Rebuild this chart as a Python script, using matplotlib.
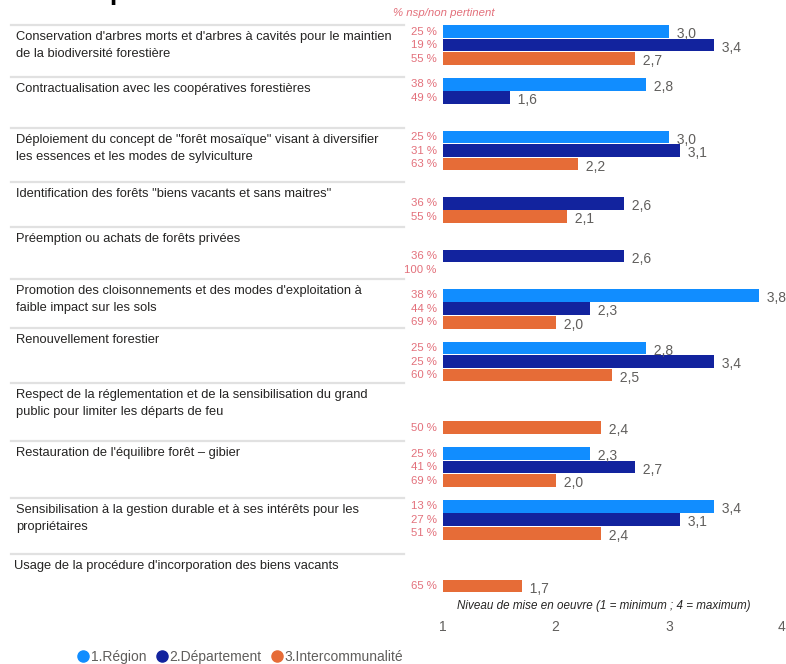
import numpy as np
import matplotlib
matplotlib.use("Agg")
import matplotlib.pyplot as plt
from matplotlib.lines import Line2D

plt.rcParams['font.family'] = ['Liberation Sans', 'DejaVu Sans']

# --- data ---
labels = [
    "Conservation d'arbres morts et d'arbres à cavités pour le maintien\nde la biodiversité forestière",
    "Contractualisation avec les coopératives forestières",
    "Déploiement du concept de \"forêt mosaïque\" visant à diversifier\nles essences et les modes de sylviculture",
    "Identification des forêts \"biens vacants et sans maitres\"",
    "Préemption ou achats de forêts privées",
    "Promotion des cloisonnements et des modes d'exploitation à\nfaible impact sur les sols",
    "Renouvellement forestier",
    "Respect de la réglementation et de la sensibilisation du grand\npublic pour limiter les départs de feu",
    "Restauration de l'équilibre forêt – gibier",
    "Sensibilisation à la gestion durable et à ses intérêts pour les\npropriétaires",
    "Usage de la procédure d'incorporation des biens vacants",
]
series = ["1.Région", "2.Département", "3.Intercommunalité"]
region = [3.0, 2.8, 3.0, None, None, 3.8, 2.8, None, 2.3, 3.4, None]
departement = [3.4, 1.6, 3.1, 2.6, 2.6, 2.3, 3.4, None, 2.7, 3.1, None]
interco = [2.7, None, 2.2, 2.1, None, 2.0, 2.5, 2.4, 2.0, 2.4, 1.7]
pct_region = ["25 %", "38 %", "25 %", None, None, "38 %", "25 %", None, "25 %", "13 %", None]
pct_departement = ["19 %", "49 %", "31 %", "36 %", "36 %", "44 %", "25 %", None, "41 %", "27 %", None]
pct_interco = ["55 %", None, "63 %", "55 %", "100 %", "69 %", "60 %", "50 %", "69 %", "51 %", "65 %"]
xticks = [1, 2, 3, 4]

colors = ["#118DFF", "#12239E", "#E66C37"]
pct_color = "#E3707B"
val_color = "#605E5C"

W, H = 786, 664
fig = plt.figure(figsize=(W / 100, H / 100), dpi=100)

def fx(px):
    return px / W

def fy(py):
    return 1 - py / H

# row separators / label offsets of the left-hand table (pixels)
sep_y = [25, 77, 128, 182, 227, 279, 328, 383, 441, 498, 554]
label_x = [16] * 10 + [14]

for i, lab in enumerate(labels):
    fig.add_artist(Line2D([fx(11), fx(404)], [fy(sep_y[i]), fy(sep_y[i])],
                          color="#E1E1E1", lw=1.6))
    fig.text(fx(label_x[i]), fy(sep_y[i] + 6), lab, fontsize=9.3, color="#252423",
             va="top", ha="left", linespacing=1.6)

# bars
slot_px = 13.5
group_px = 52.75
top_px, bot_px = 24, 612
y0_px = 31.5
ax = fig.add_axes([fx(442.5), fy(bot_px), fx(782) - fx(442.5), (bot_px - top_px) / H])
ax.set_xlim(1, 4)
ax.set_ylim((bot_px - y0_px) / slot_px, (top_px - y0_px) / slot_px)
ax.set_facecolor("none")
for s in ax.spines.values():
    s.set_visible(False)
ax.set_yticks([])
ax.set_xticks(xticks)
ax.set_xticklabels([str(t) for t in xticks], color=val_color, fontsize=10)
ax.tick_params(axis="x", length=0, pad=6)

gp = group_px / slot_px
for j, (vals, pcts) in enumerate(zip([region, departement, interco],
                                     [pct_region, pct_departement, pct_interco])):
    for i in range(len(labels)):
        y = i * gp + j
        v = vals[i]
        if v is not None:
            ax.barh(y, v - 1, left=1, height=0.93, color=colors[j], edgecolor="none")
            ax.text(v, y + 0.2, "  " + f"{v:.1f}".replace(".", ","), va="center",
                    ha="left", fontsize=10, color=val_color, clip_on=False)
        if pcts[i] is not None:
            ax.text(-0.017, y, pcts[i], transform=ax.get_yaxis_transform(),
                    ha="right", va="center", fontsize=8.2, color=pct_color)

fig.text(fx(444), fy(13), "% nsp/non pertinent", fontsize=8.2, style="italic",
         color=pct_color, ha="center", va="center")
fig.text(fx(604), fy(606), "Niveau de mise en oeuvre (1 = minimum ; 4 = maximum)",
         fontsize=8.4, style="italic", color="#252423", ha="center", va="center")

# clipped title remnant
fig.text(fx(108), fy(-4), "p", fontsize=30, color="black", ha="left", va="baseline")

handles = [Line2D([], [], marker="o", ls="none", color=c, markersize=8) for c in colors]
fig.legend(handles, series, loc="center left", bbox_to_anchor=(fx(64), fy(657)),
           ncol=3, frameon=False, fontsize=10, handletextpad=0.05, columnspacing=0.6,
           handlelength=1.0, labelcolor="#605E5C")

fig.savefig("out.png", dpi=100)
